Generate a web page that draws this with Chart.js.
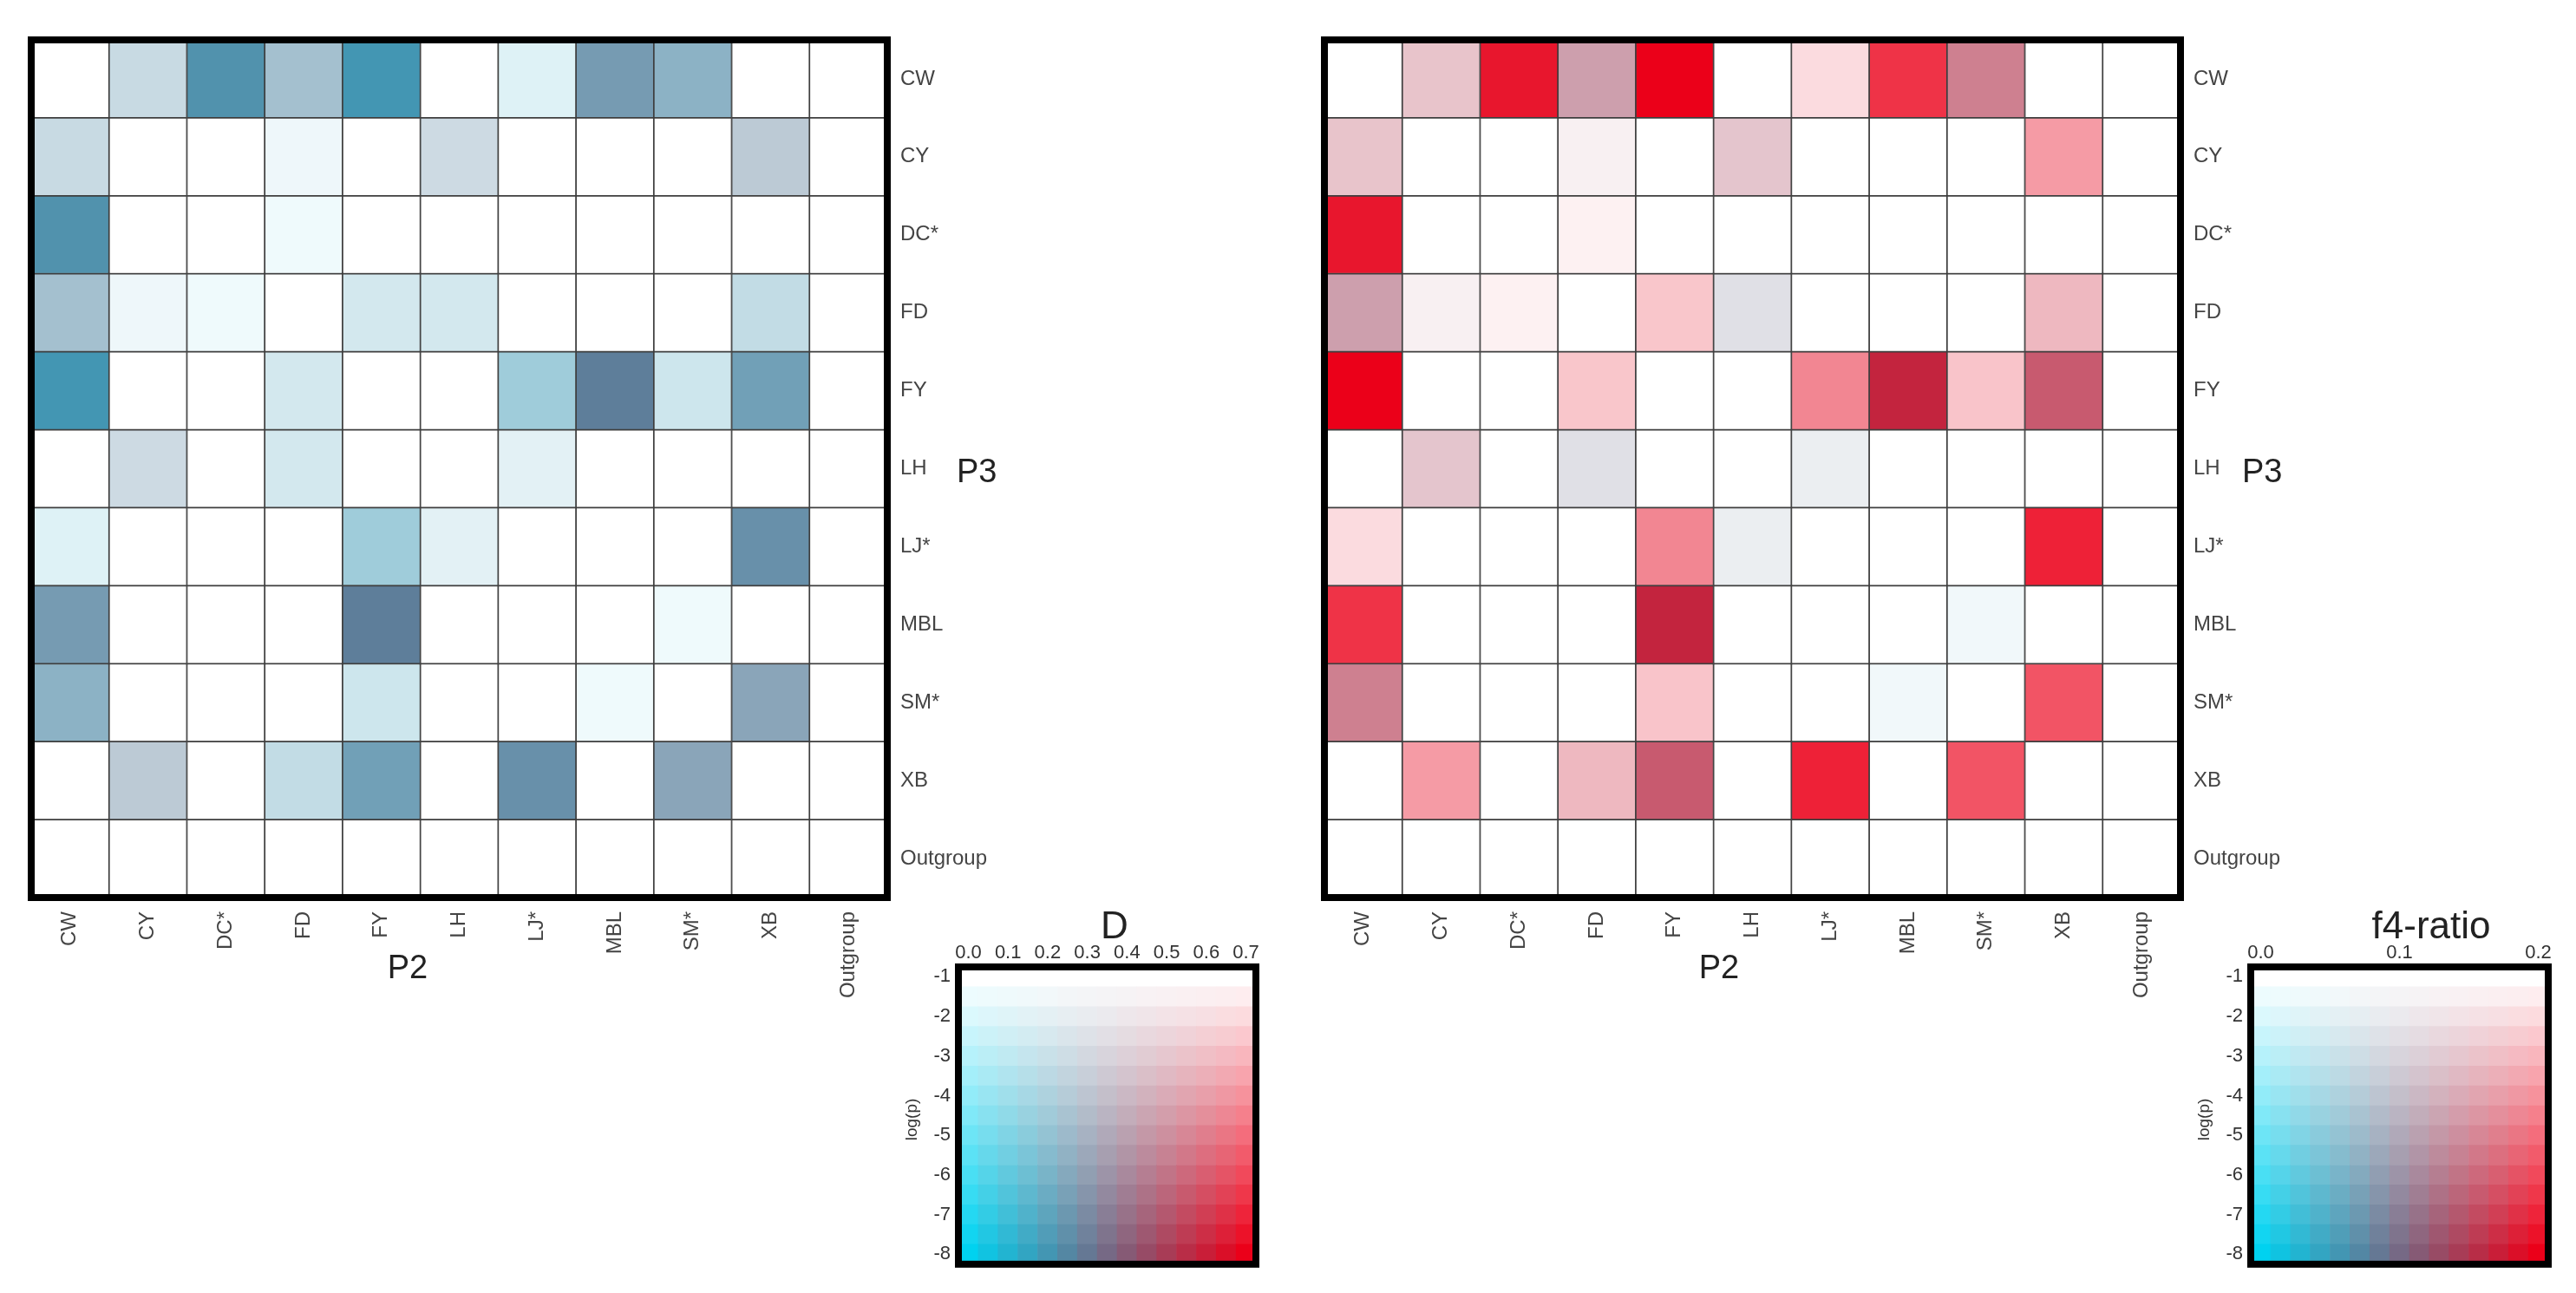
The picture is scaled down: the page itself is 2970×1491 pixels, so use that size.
<!DOCTYPE html>
<html>
<head>
<meta charset="utf-8">
<script src="https://cdn.jsdelivr.net/npm/chart.js@4.4.1/dist/chart.umd.min.js"></script>
<style>
    html, body { margin: 0; padding: 0; background: #fff; }
    body { width: 2970px; height: 1491px; position: relative; overflow: hidden; }
    canvas { position: absolute; }
</style>
</head>
<body>
<canvas id="heat-d" width="1230" height="1200" style="left:0;top:0"></canvas>
<canvas id="heat-f4" width="1230" height="1200" style="left:1491px;top:0"></canvas>
<canvas id="key-d" width="460" height="440" style="left:1005px;top:1040px"></canvas>
<canvas id="key-f4" width="460" height="440" style="left:2495px;top:1040px"></canvas>
<script>
// populations (P2 = columns, P3 = rows)
var populations = ['CW', 'CY', 'DC*', 'FD', 'FY', 'LH', 'LJ*', 'MBL', 'SM*', 'XB', 'Outgroup'];

// D statistic, rows = P3, cols = P2 (null = blank cell)
var dStat = [
    [null, 0.24, 0.225, 0.245, 0.20, null, 0.13, 0.26, 0.24, null, null],
    [0.24, null, null, 0.16, null, 0.26, null, null, null, 0.28, null],
    [0.225, null, null, 0.10, null, null, null, null, null, null, null],
    [0.245, 0.16, 0.10, null, 0.19, 0.19, null, null, null, 0.21, null],
    [0.20, null, null, 0.19, null, null, 0.19, 0.28, 0.18, 0.24, null],
    [null, 0.26, null, 0.19, null, null, 0.17, null, null, null, null],
    [0.13, null, null, null, 0.19, 0.17, null, null, null, 0.26, null],
    [0.26, null, null, null, 0.28, null, null, null, 0.10, null, null],
    [0.24, null, null, null, 0.18, null, null, 0.10, null, 0.27, null],
    [null, 0.28, null, 0.21, 0.24, null, 0.26, null, 0.27, null, null],
    [null, null, null, null, null, null, null, null, null, null, null]
];
var dLogP = [
    [null, -3.2, -7.8, -4.7, -8.0, null, -2.1, -6.7, -5.6, null, null],
    [-3.2, null, null, -1.6, null, -3.1, null, null, null, -3.9, null],
    [-7.8, null, null, -1.5, null, null, null, null, null, null, null],
    [-4.7, -1.6, -1.5, null, -2.6, -2.6, null, null, null, -3.3, null],
    [-8.0, null, null, -2.6, null, null, -4.5, -8.0, -2.8, -6.7, null],
    [null, -3.1, null, -2.6, null, null, -2.0, null, null, null, null],
    [-2.1, null, null, null, -4.5, -2.0, null, null, null, -7.3, null],
    [-6.7, null, null, null, -8.0, null, null, null, -1.5, null, null],
    [-5.6, null, null, null, -2.8, null, null, -1.5, null, -6.0, null],
    [null, -3.9, null, -3.3, -6.7, null, -7.3, null, -6.0, null, null],
    [null, null, null, null, null, null, null, null, null, null, null]
];

// f4-ratio, same layout
var f4Ratio = [
    [null, 0.15, 0.196, 0.134, 0.20, null, 0.196, 0.20, 0.15, null, null],
    [0.15, null, null, 0.14, null, 0.14, null, null, null, 0.196, null],
    [0.196, null, null, 0.19, null, null, null, null, null, null, null],
    [0.134, 0.14, 0.19, null, 0.196, 0.094, null, null, null, 0.172, null],
    [0.20, null, null, 0.196, null, null, 0.194, 0.166, 0.196, 0.157, null],
    [null, 0.14, null, 0.094, null, null, 0.084, null, null, null, null],
    [0.196, null, null, null, 0.194, 0.084, null, null, null, 0.20, null],
    [0.20, null, null, null, 0.166, null, null, null, 0.046, null, null],
    [0.15, null, null, null, 0.196, null, null, 0.046, null, 0.20, null],
    [null, 0.196, null, 0.172, 0.157, null, 0.20, null, 0.20, null, null],
    [null, null, null, null, null, null, null, null, null, null, null]
];
var f4LogP = [
    [null, -3.05, -7.5, -4.6, -8.0, null, -2.0, -6.6, -5.4, null, null],
    [-3.05, null, null, -1.55, null, -3.1, null, null, null, -3.8, null],
    [-7.5, null, null, -1.4, null, null, null, null, null, null, null],
    [-4.6, -1.55, -1.4, null, -2.6, -2.5, null, null, null, -3.2, null],
    [-8.0, null, null, -2.6, null, null, -4.4, -8.0, -2.65, -6.5, null],
    [null, -3.1, null, -2.5, null, null, -1.9, null, null, null, null],
    [-2.0, null, null, null, -4.4, -1.9, null, null, null, -7.1, null],
    [-6.6, null, null, null, -8.0, null, null, null, -1.5, null, null],
    [-5.4, null, null, null, -2.65, null, null, -1.5, null, -5.7, null],
    [null, -3.8, null, -3.2, -6.5, null, -7.1, null, -5.7, null, null],
    [null, null, null, null, null, null, null, null, null, null, null]
];

// colour key steps
var dKeySteps = [0, 0.05, 0.1, 0.15, 0.2, 0.25, 0.3, 0.35, 0.4, 0.45, 0.5, 0.55, 0.6, 0.65, 0.7];
var f4KeySteps = [0, 0.014, 0.029, 0.043, 0.057, 0.071, 0.086, 0.1, 0.114, 0.129, 0.143, 0.157, 0.171, 0.186, 0.2];
var logPSteps = [-1, -1.5, -2, -2.5, -3, -3.5, -4, -4.5, -5, -5.5, -6, -6.5, -7, -7.5, -8];

var FONT = '"Liberation Sans", Arial, sans-serif';

// bivariate colour: value -> white/cyan..red, log(p) -> strength
function bivariate(v, lp, vmax) {
    if (v === null || lp === null) {
        return '#ffffff';
    }
    var t = Math.max(0, Math.min(1, v / vmax));
    var s = Math.max(0, Math.min(1, (-1 - lp) / 7));
    var lowLeft = [0, 210, 240];
    var lowRight = [235, 0, 25];
    var rgb = [];
    for (var k = 0; k < 3; k++) {
        var bottom = lowLeft[k] * (1 - t) + lowRight[k] * t;
        rgb.push(Math.round(255 * (1 - s) + bottom * s));
    }
    return 'rgb(' + rgb.join(',') + ')';
}

function framePlugin(width) {
    return {
        id: 'frame',
        afterDatasetsDraw: function (chart) {
            var a = chart.chartArea;
            var ctx = chart.ctx;
            ctx.save();
            ctx.lineWidth = width;
            ctx.strokeStyle = '#000';
            ctx.strokeRect(a.left, a.top, a.right - a.left, a.bottom - a.top);
            ctx.restore();
        }
    };
}

function notesPlugin(items) {
    return {
        id: 'notes',
        afterDraw: function (chart) {
            var a = chart.chartArea;
            var ctx = chart.ctx;
            items.forEach(function (it) {
                ctx.save();
                ctx.translate(a.left + it.x, a.top + it.y);
                if (it.rotate) {
                    ctx.rotate(it.rotate * Math.PI / 180);
                }
                ctx.font = it.font;
                ctx.fillStyle = it.color || '#222';
                ctx.textAlign = it.align || 'center';
                ctx.textBaseline = 'middle';
                ctx.fillText(it.text, 0, 0);
                ctx.restore();
            });
        }
    };
}

function heatDatasets(values, logp, vmax) {
    var sets = [];
    // stacked bottom-up, so last row first
    for (var r = populations.length - 1; r >= 0; r--) {
        var colors = [];
        var ones = [];
        for (var c = 0; c < populations.length; c++) {
            colors.push(bivariate(values[r][c], logp[r][c], vmax));
            ones.push(1);
        }
        sets.push({
            label: populations[r],
            data: ones,
            backgroundColor: colors,
            borderColor: '#3e3e3e',
            borderWidth: 1.2,
            borderSkipped: false,
            barPercentage: 1,
            categoryPercentage: 1
        });
    }
    return sets;
}

function makeHeatmap(id, values, logp, vmax, p2x, p3x) {
    new Chart(document.getElementById(id), {
        type: 'bar',
        data: {
            labels: populations,
            datasets: heatDatasets(values, logp, vmax)
        },
        options: {
            responsive: false,
            animation: false,
            events: [],
            devicePixelRatio: 1,
            layout: { padding: { left: 36, top: 46, right: 0, bottom: 0 } },
            plugins: { legend: { display: false }, tooltip: { enabled: false } },
            scales: {
                x: {
                    stacked: true,
                    grid: { display: false, drawTicks: false },
                    border: { display: false },
                    ticks: {
                        autoSkip: false,
                        minRotation: 90,
                        maxRotation: 90,
                        padding: 16,
                        color: '#444',
                        font: { family: FONT, size: 24 }
                    },
                    afterFit: function (scale) { scale.height = 165; }
                },
                y: { stacked: true, display: false, min: 0, max: populations.length },
                rows: {
                    type: 'category',
                    labels: populations,
                    position: 'right',
                    offset: true,
                    grid: { display: false, drawTicks: false },
                    border: { display: false },
                    ticks: {
                        autoSkip: false,
                        padding: 15,
                        color: '#444',
                        font: { family: FONT, size: 24 }
                    },
                    afterFit: function (scale) { scale.width = 207; }
                }
            }
        },
        plugins: [
            framePlugin(8),
            notesPlugin([
                { text: 'P2', x: p2x, y: 1072, font: '38px ' + FONT },
                { text: 'P3', x: p3x, y: 500, align: 'left', font: '38px ' + FONT }
            ])
        ]
    });
}

function makeKey(id, steps, vmax, title, titleX, labelEvery) {
    var sets = [];
    for (var r = logPSteps.length - 1; r >= 0; r--) {
        var colors = [];
        var ones = [];
        for (var c = 0; c < steps.length; c++) {
            colors.push(bivariate(steps[c], logPSteps[r], vmax));
            ones.push(1);
        }
        sets.push({
            data: ones,
            backgroundColor: colors,
            borderWidth: 0,
            barPercentage: 1,
            categoryPercentage: 1
        });
    }
    new Chart(document.getElementById(id), {
        type: 'bar',
        data: { labels: steps, datasets: sets },
        options: {
            responsive: false,
            animation: false,
            events: [],
            devicePixelRatio: 1,
            layout: { padding: { left: 40, top: 35, right: 17, bottom: 18 } },
            plugins: { legend: { display: false }, tooltip: { enabled: false } },
            scales: {
                x: {
                    stacked: true,
                    position: 'top',
                    grid: { display: false, drawTicks: false },
                    border: { display: false },
                    ticks: {
                        autoSkip: false,
                        maxRotation: 0,
                        padding: 3,
                        color: '#333',
                        font: { family: FONT, size: 22 },
                        callback: function (value, index) {
                            return index % labelEvery === 0 ? steps[index].toFixed(1) : '';
                        }
                    },
                    afterFit: function (scale) { scale.height = 40; }
                },
                y: { stacked: true, display: false, min: 0, max: logPSteps.length },
                lp: {
                    type: 'category',
                    labels: logPSteps,
                    position: 'left',
                    offset: true,
                    grid: { display: false, drawTicks: false },
                    border: { display: false },
                    ticks: {
                        autoSkip: false,
                        padding: 9,
                        color: '#333',
                        font: { family: FONT, size: 22 },
                        callback: function (value, index) {
                            var v = logPSteps[index];
                            return Math.round(v) === v ? String(v) : '';
                        }
                    },
                    afterFit: function (scale) { scale.width = 60; }
                }
            }
        },
        plugins: [
            framePlugin(8),
            notesPlugin([
                { text: title, x: titleX, y: -45, font: '44px ' + FONT },
                { text: 'log(p)', x: -53, y: 176, rotate: -90, color: '#333', font: '19px ' + FONT }
            ])
        ]
    });
}

makeHeatmap('heat-d', dStat, dLogP, 0.7, 434, 1067);
makeHeatmap('heat-f4', f4Ratio, f4LogP, 0.2, 455, 1058);
makeKey('key-d', dKeySteps, 0.7, 'D', 180, 2);
makeKey('key-f4', f4KeySteps, 0.2, 'f4-ratio', 208, 7);
</script>
</body>
</html>
